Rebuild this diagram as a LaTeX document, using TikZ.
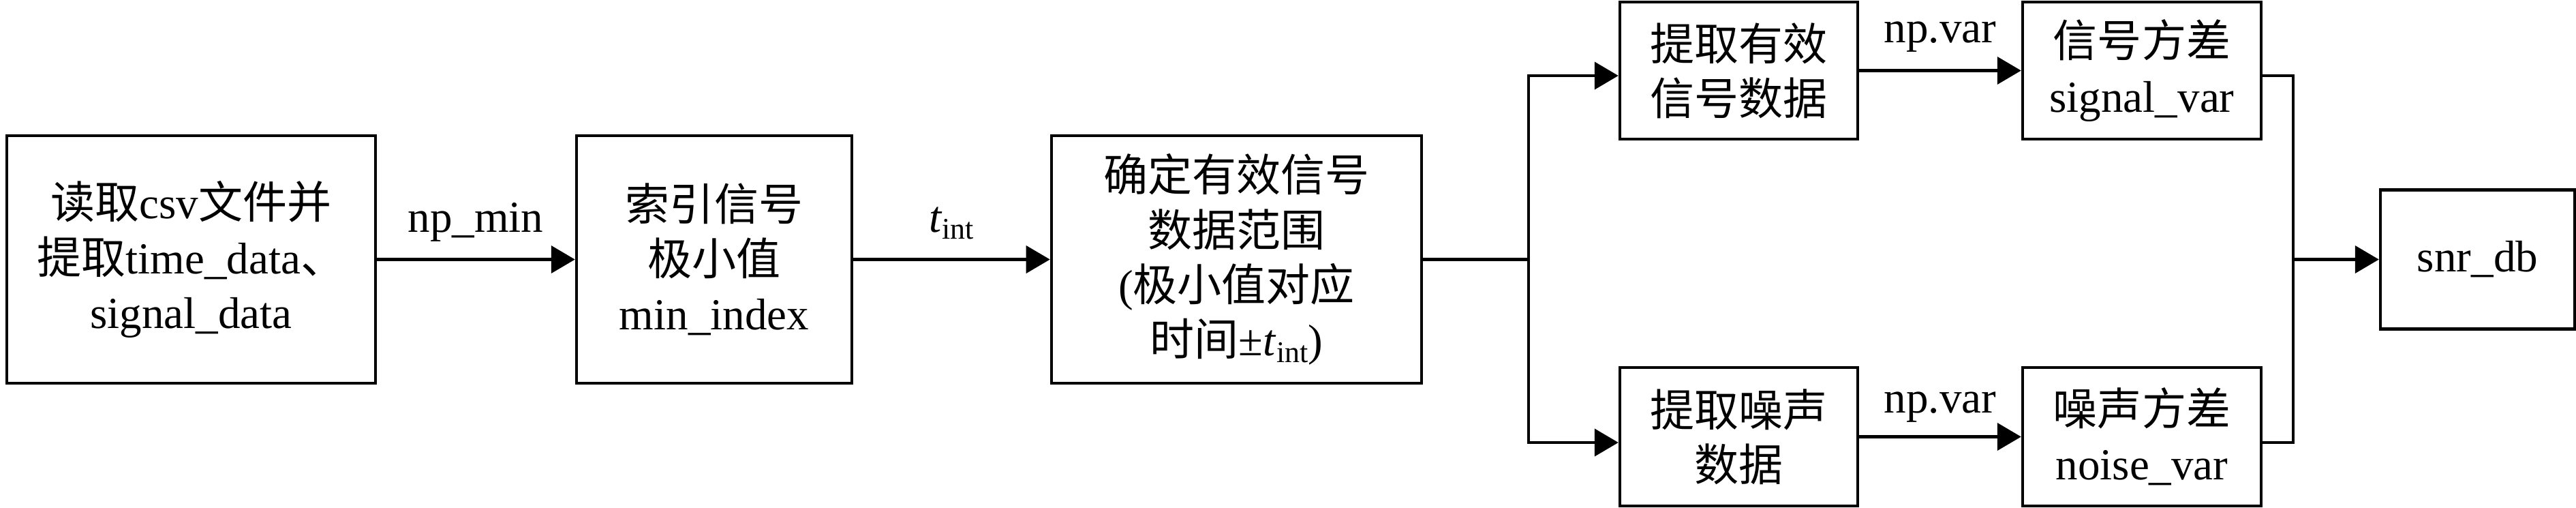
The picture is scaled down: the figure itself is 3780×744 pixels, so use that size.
\documentclass[tikz,border=0pt]{standalone}
\usepackage{fontspec}
\setmainfont{Liberation Serif}
\newfontfamily\cjk{Noto Sans CJK SC}
\usetikzlibrary{arrows.meta}
\newcommand\zh[1]{{\cjk #1}}
\newcommand\tint{\textit{t}\raisebox{-0.35ex}{\fontsize{12.5pt}{12.5pt}\selectfont int}}
\begin{document}
\begin{tikzpicture}[x=0.01cm, y=-0.01cm, line width=1.2pt,
  font=\fontsize{18.5pt}{22.8pt}\selectfont,
  box/.style={draw, inner sep=0pt, align=center},
  arr/.style={-{Triangle[length=3.5mm, width=4mm]}},
  lbl/.style={anchor=base, inner sep=0pt}]
\useasboundingbox (0,0) rectangle (3780,744);
% boxes
\node[box, minimum width=5.41cm, minimum height=3.63cm] (b1) at (280.5,380.5)
  {\zh{读取}csv\zh{文件并}\\\zh{提取}time\_data\zh{、}\\signal\_data};
\node[box, minimum width=4.04cm, minimum height=3.63cm] (b2) at (1048,380.5)
  {\zh{索引信号}\\\zh{极小值}\\min\_index};
\node[box, minimum width=5.43cm, minimum height=3.63cm] (b3) at (1814.5,380.5)
  {\zh{确定有效信号}\\\zh{数据范围}\\(\zh{极小值对应}\\\zh{时间}±\tint)};
\node[box, minimum width=3.49cm, minimum height=2.01cm] (b4) at (2551.5,103.5)
  {\zh{提取有效}\\\zh{信号数据}};
\node[box, minimum width=3.50cm, minimum height=2.01cm] (b5) at (3143,103.5)
  {\zh{信号方差}\\signal\_var};
\node[box, minimum width=3.49cm, minimum height=2.03cm] (b6) at (2551.5,640.5)
  {\zh{提取噪声}\\\zh{数据}};
\node[box, minimum width=3.50cm, minimum height=2.03cm] (b7) at (3143,640.5)
  {\zh{噪声方差}\\noise\_var};
\node[box, minimum width=2.85cm, minimum height=2.04cm] (b8) at (3635.5,380.5)
  {snr\_db};
% helper coordinates
\coordinate (sp) at (2243,380.5);
\coordinate (rj) at (3365,380.5);
\coordinate (yt) at (0,111);
\coordinate (yb) at (0,649);
% connectors
\draw[arr] (b1) -- (b2);
\draw[arr] (b2) -- (b3);
\draw (b3) -- (sp);
\draw[arr] (sp) |- (b4.west |- yt);
\draw[arr] (sp) |- (b6.west |- yb);
\draw[arr] (b4) -- (b5);
\draw[arr] (b6) -- (b7);
\draw (b5.east |- yt) -| (rj);
\draw (b7.east |- yb) -| (rj);
\draw[arr] (rj) -- (b8);
% labels
\node[lbl] (l1) at (698,340) {np\_min};
\node[lbl] (l2) at (1396,340) {\tint};
\node[lbl] (l3) at (2847,62) {np.var};
\node[lbl] (l4) at (2847,605) {np.var};
\end{tikzpicture}
\end{document}
